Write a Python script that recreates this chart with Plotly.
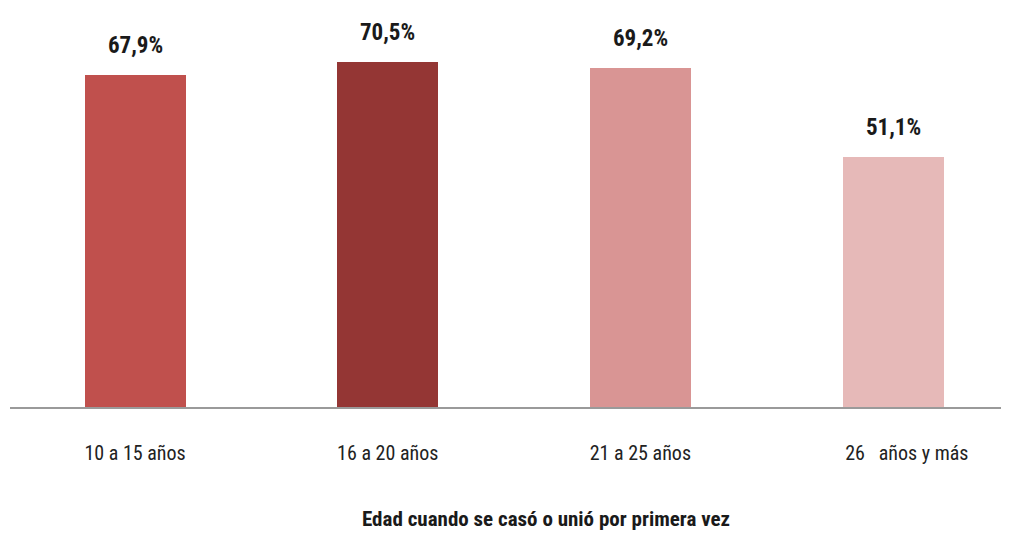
import plotly.graph_objects as go

categories = ["10 a 15 años", "16 a 20 años", "21 a 25 años",
              "\u00a0" * 6 + "26\u00a0\u00a0\u00a0años y más"]
values = [67.9, 70.5, 69.2, 51.1]
value_labels = ["67,9%", "70,5%", "69,2%", "51,1%"]
colors = ["#C0504D", "#943634", "#D99594", "#E6B9B8"]
x_title = "Edad cuando se casó o unió por primera vez"

FONT = "Liberation Sans Narrow, Arial Narrow, Roboto Condensed, Liberation Sans, sans-serif"

xs = list(range(len(categories)))
fig = go.Figure(go.Bar(x=xs, y=values, marker=dict(color=colors, line=dict(width=0)),
                       width=0.4, hoverinfo="skip"))

for x, v, t in zip(xs, values, value_labels):
    fig.add_annotation(x=x, y=v, text=f"<b>{t}</b>", showarrow=False, yanchor="bottom",
                       yshift=14, font=dict(family=FONT, size=23, color="#1a1a1a"))

fig.add_annotation(xref="paper", yref="paper", x=0.537, y=-0.29, yanchor="middle",
                   text=f"<b>{x_title}</b>", showarrow=False,
                   font=dict(family=FONT, size=21, color="#1a1a1a"))

fig.update_layout(
    width=1009, height=541,
    margin=dict(l=2, r=8, t=12, b=142),
    paper_bgcolor="white", plot_bgcolor="white",
    showlegend=False, bargap=0,
    xaxis=dict(range=[-0.495, 3.459], tickmode="array", tickvals=xs, ticktext=categories,
               showgrid=False, zeroline=False, showline=True, linecolor="#9a9a9a", linewidth=2,
               ticks="", ticklabelstandoff=27,
               tickfont=dict(family=FONT, size=20, color="#222222")),
    yaxis=dict(range=[0, 79.1], visible=False, showgrid=False, zeroline=False),
)

fig.write_html("out.html")
